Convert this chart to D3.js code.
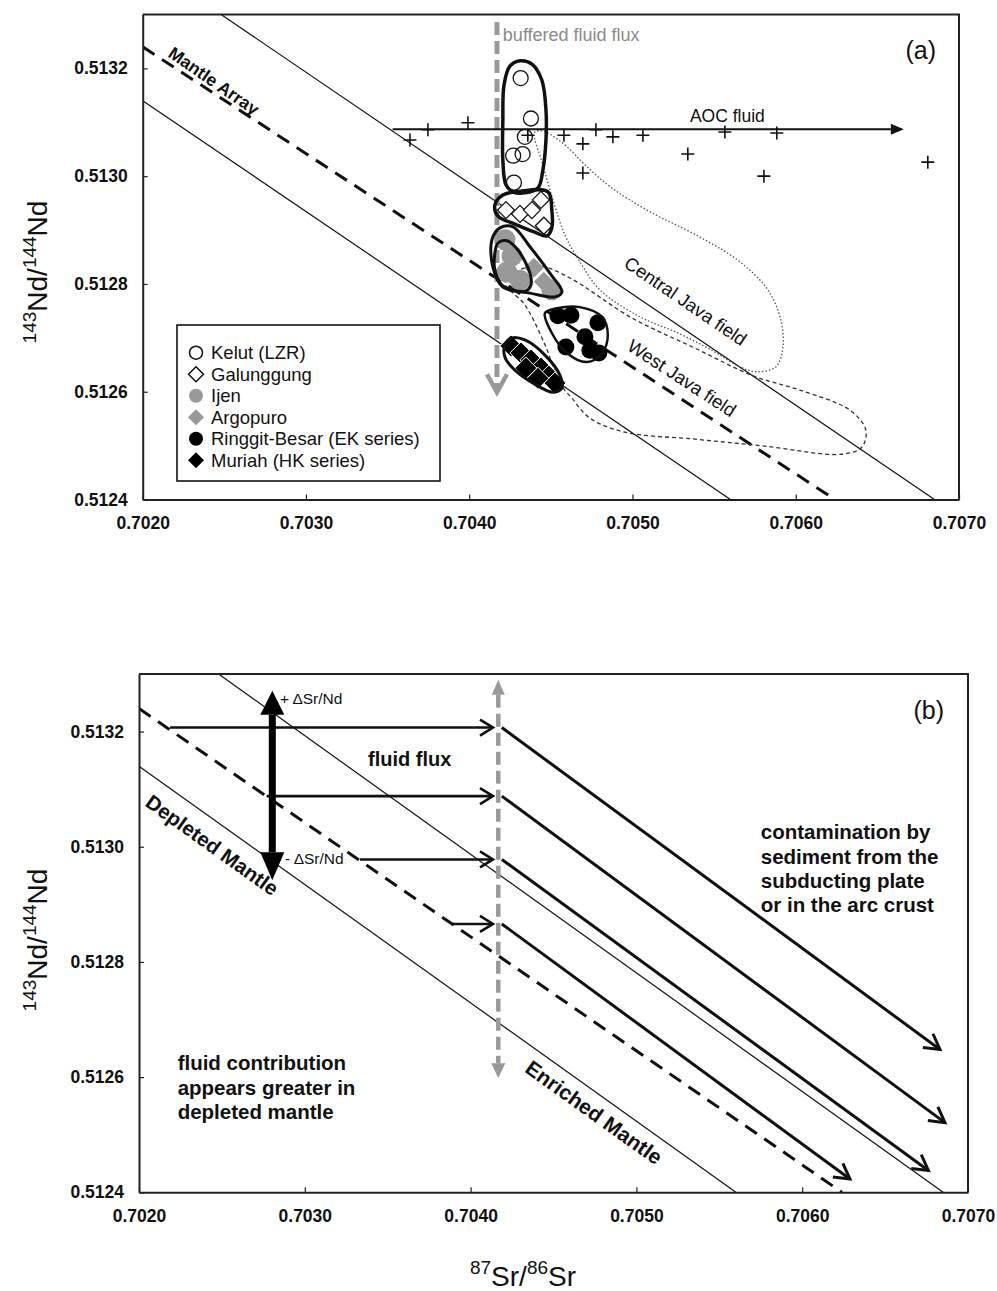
<!DOCTYPE html>
<html><head><meta charset="utf-8">
<script src="https://cdn.jsdelivr.net/npm/d3@7"></script>
<style>body{margin:0;background:#fff;}svg{display:block;}</style>
</head><body>
<script>
// ---------- axes ----------
const xDomain=[0.7020,0.7070];
const yDomain=[0.5124,0.5133];
const xTicks=[0.7020,0.7030,0.7040,0.7050,0.7060,0.7070];
const xTickLabels=["0.7020","0.7030","0.7040","0.7050","0.7060","0.7070"];
const yTicks=[0.5124,0.5126,0.5128,0.5130,0.5132];
const yTickLabels=["0.5124","0.5126","0.5128","0.5130","0.5132"];

// ---------- reference lines (both panels) ----------
const lineUpper=[[0.70248,0.5133],[0.70685,0.5124]];
const lineLower=[[0.7020,0.51314],[0.70560,0.5124]];
const mantleArray=[[0.7020,0.51324],[0.70624,0.5124]];

// ---------- panel (a) samples ----------
const kelut=[[0.704315,0.513182],[0.704378,0.513107],[0.704341,0.513073],[0.704269,0.513038],[0.704327,0.513041],[0.704274,0.512988]];
const galunggung=[[0.704225,0.512937],[0.704311,0.512930],[0.704384,0.512937],[0.704439,0.512956],[0.704457,0.512908]];
const ijen=[[0.704219,0.512882],[0.704262,0.512852],[0.704231,0.512822],[0.704311,0.512807],[0.704506,0.512789]];
const argopuro=[[0.704396,0.512830],[0.704457,0.512804]];
const ringgit=[[0.704543,0.512741],[0.704623,0.512742],[0.704788,0.512728],[0.704709,0.512702],[0.704592,0.512683],[0.704739,0.512677],[0.704794,0.512672]];
const muriah=[[0.704255,0.512685],[0.704317,0.512672],[0.704378,0.512659],[0.704439,0.512644],[0.704488,0.512629],[0.704525,0.512616],[0.704347,0.512644],[0.704421,0.512625]];
const aocFluid=[[0.703637,0.513067],[0.703747,0.513086],[0.703992,0.513099],[0.704359,0.513076],[0.704580,0.513076],[0.704696,0.513060],[0.704776,0.513086],[0.704880,0.513073],[0.705064,0.513076],[0.704696,0.513006],[0.705339,0.513041],[0.705566,0.513082],[0.705884,0.513080],[0.705805,0.513000],[0.706809,0.513026]];

// envelopes
const kelutEnv=[[0.704311,0.513214],[0.704384,0.513208],[0.704445,0.513178],[0.704470,0.513123],[0.704470,0.513067],[0.704451,0.513011],[0.704421,0.512978],[0.704341,0.512969],[0.704268,0.512971],[0.704225,0.512984],[0.704206,0.513030],[0.704206,0.513104],[0.704213,0.513169],[0.704249,0.513204]];
const galEnv=[[0.704157,0.512946],[0.704206,0.512965],[0.704311,0.512972],[0.704482,0.512971],[0.704506,0.512937],[0.704506,0.512904],[0.704476,0.512889],[0.704402,0.512896],[0.704280,0.512911],[0.704176,0.512926]];
const ijenEnv=[[0.704157,0.512857],[0.704176,0.512876],[0.704231,0.512880],[0.704298,0.512863],[0.704372,0.512820],[0.704378,0.512798],[0.704347,0.512787],[0.704262,0.512789],[0.704200,0.512798],[0.704157,0.512826]];
const argoEnv=[[0.704139,0.512882],[0.704188,0.512904],[0.704268,0.512906],[0.704372,0.512869],[0.704494,0.512820],[0.704568,0.512785],[0.704525,0.512776],[0.704372,0.512783],[0.704206,0.512794],[0.704145,0.512831]];
const ringgitEnv=[[0.704464,0.512746],[0.704537,0.512755],[0.704678,0.512757],[0.704813,0.512739],[0.704849,0.512705],[0.704813,0.512672],[0.704721,0.512655],[0.704598,0.512672],[0.704506,0.512709]];
const muriahEnv=[[0.704219,0.512687],[0.704262,0.512700],[0.704341,0.512696],[0.704464,0.512668],[0.704555,0.512631],[0.704568,0.512607],[0.704513,0.512599],[0.704402,0.512614],[0.704280,0.512640],[0.704219,0.512664]];
const centralJava=[[0.704464,0.513082],[0.704586,0.513058],[0.704709,0.513021],[0.704874,0.512978],[0.705107,0.512934],[0.705413,0.512887],[0.705658,0.512841],[0.705829,0.512789],[0.705909,0.512733],[0.705921,0.512681],[0.705878,0.512646],[0.705762,0.512637],[0.705658,0.512646],[0.705486,0.512677],[0.705278,0.512709],[0.705045,0.512739],[0.704800,0.512789],[0.704678,0.512841],[0.704586,0.512891],[0.704513,0.512956],[0.704451,0.513021],[0.704402,0.513082]];
const westJava=[[0.704219,0.512802],[0.704280,0.512822],[0.704433,0.512833],[0.704617,0.512811],[0.704996,0.512737],[0.705382,0.512681],[0.705743,0.512629],[0.706025,0.512603],[0.706331,0.512566],[0.706429,0.512529],[0.706405,0.512497],[0.706282,0.512484],[0.705811,0.512499],[0.705382,0.512512],[0.704953,0.512525],[0.704739,0.512551],[0.704629,0.512588],[0.704555,0.512616],[0.704464,0.512687],[0.704341,0.512761]];

const aocArrow=[[0.703531,0.513087],[0.706662,0.513087]];
const bufferedA=[[0.704170,0.513286],[0.704170,0.512599]];
const legendNames=["Kelut (LZR)","Galunggung","Ijen","Argopuro","Ringgit-Besar (EK series)","Muriah (HK series)"];

// ---------- panel (b) schematic ----------
const bufferedB=[[0.704167,0.513290],[0.704167,0.512598]];
const deltaArrow=[[0.702804,0.513271],[0.702804,0.512942]];
const fluxY=[0.513207,0.513088,0.512978,0.512866];
const fluxStartX=[0.702187,0.702770,0.703333,0.703886];
const fluxTipX=0.704135;
const contamStartX=0.704188;
const contamEnd=[[0.706831,0.512648],[0.706861,0.512521],[0.706761,0.512438],[0.706288,0.512423]];

// ---------- drawing ----------
const font='"Liberation Sans", Arial, Helvetica, sans-serif';
const svg=d3.select("body").append("svg").attr("width",997).attr("height",1291);
const defs=svg.append("defs");

function makePanel(id,xr,yr){
  const x=d3.scaleLinear().domain(xDomain).range(xr);
  const y=d3.scaleLinear().domain(yDomain).range(yr);
  defs.append("clipPath").attr("id",id).append("rect").attr("x",xr[0]).attr("y",yr[1]).attr("width",xr[1]-xr[0]).attr("height",yr[0]-yr[1]);
  const g=svg.append("g");
  const plot=g.append("g").attr("clip-path",`url(#${id})`);
  return {x,y,g,plot};
}
function drawAxes(P){
  const {x,y,g}=P;
  const xa=g.append("g").attr("transform",`translate(0,${y.range()[0]})`)
    .call(d3.axisBottom(x).tickValues(xTicks).tickFormat((d,i)=>xTickLabels[i]).tickSizeInner(-5).tickSizeOuter(0).tickPadding(17));
  const ya=g.append("g").attr("transform",`translate(${x.range()[0]},0)`)
    .call(d3.axisLeft(y).tickValues(yTicks).tickFormat((d,i)=>yTickLabels[i]).tickSizeInner(-5).tickSizeOuter(0).tickPadding(15));
  [xa,ya].forEach(a=>{
    a.select(".domain").attr("stroke","#222").attr("stroke-width",2);
    a.selectAll(".tick line").attr("stroke","#222").attr("stroke-width",1.2);
    a.selectAll("text").attr("font-family",font).attr("font-weight","bold").attr("font-size",17.5).attr("fill","#111");
  });
  g.append("path").attr("d",`M${x.range()[0]},${y.range()[1]}H${x.range()[1]}V${y.range()[0]}`)
    .attr("fill","none").attr("stroke","#222").attr("stroke-width",2);
}
const px=(P,d)=>[P.x(d[0]),P.y(d[1])];
function refLines(P){
  const ln=d3.line().x(d=>P.x(d[0])).y(d=>P.y(d[1]));
  P.plot.append("path").attr("d",ln(lineUpper)).attr("stroke","#111").attr("stroke-width",1.2).attr("fill","none");
  P.plot.append("path").attr("d",ln(lineLower)).attr("stroke","#111").attr("stroke-width",1.2).attr("fill","none");
  P.plot.append("path").attr("d",ln(mantleArray)).attr("stroke","#111").attr("stroke-width",3).attr("stroke-dasharray","14,9").attr("fill","none");
}
function angleOf(P,l){const a=px(P,l[0]),b=px(P,l[1]);return Math.atan2(b[1]-a[1],b[0]-a[0])*180/Math.PI;}
function headPts(p0,p1,len,hw){
  const a=Math.atan2(p1[1]-p0[1],p1[0]-p0[0]),c=Math.cos(a),s=Math.sin(a);
  const bx=p1[0]-len*c,by=p1[1]-len*s;
  return {a:[bx+hw*s,by-hw*c],b:[bx-hw*s,by+hw*c],base:[bx,by],tip:p1};
}
function chevron(g,p0,p1,len,hw,col,sw){
  const h=headPts(p0,p1,len,hw);
  g.append("path").attr("d",`M${h.a}L${h.tip}L${h.b}`).attr("fill","none").attr("stroke",col).attr("stroke-width",sw).attr("stroke-linejoin","miter");
}
function tri(g,p0,p1,len,hw,col){
  const h=headPts(p0,p1,len,hw);
  g.append("path").attr("d",`M${h.a}L${h.tip}L${h.b}Z`).attr("fill",col);
  return h.base;
}
function seg(g,a,b,col,sw,dash){
  const p=g.append("line").attr("x1",a[0]).attr("y1",a[1]).attr("x2",b[0]).attr("y2",b[1]).attr("stroke",col).attr("stroke-width",sw);
  if(dash)p.attr("stroke-dasharray",dash);
  return p;
}
function txt(g,x,y,s,size,opt={}){
  return g.append("text").attr("x",x).attr("y",y).attr("font-family",font).attr("font-size",size)
    .attr("font-weight",opt.w||"normal").attr("fill",opt.c||"#111").attr("text-anchor",opt.a||"start").text(s);
}
function rotText(g,P,pos,ang,s,size,opt={}){
  return g.append("text").attr("transform",`translate(${P.x(pos[0])},${P.y(pos[1])}) rotate(${ang})`)
    .attr("font-family",font).attr("font-size",size).attr("font-weight",opt.w||"normal").attr("fill",opt.c||"#111").text(s);
}
const diamond=s=>`M0,${-s}L${s},0L0,${s}L${-s},0Z`;
function yTitle(cx,cy){
  const t=svg.append("text").attr("transform",`translate(${cx},${cy}) rotate(-90)`).attr("text-anchor","middle").attr("font-family",font).attr("fill","#111");
  t.append("tspan").attr("font-size",19).attr("dy",-11).text("143");
  t.append("tspan").attr("font-size",28).attr("dy",11).text("Nd/");
  t.append("tspan").attr("font-size",19).attr("dy",-11).text("144");
  t.append("tspan").attr("font-size",28).attr("dy",11).text("Nd");
}

// ===== Panel (a) =====
const A=makePanel("clipA",[142.7,959],[499.5,14.5]);
refLines(A);
const closed=P=>d3.line().x(d=>P.x(d[0])).y(d=>P.y(d[1])).curve(d3.curveCatmullRomClosed.alpha(0.5));
const lnA=closed(A);
A.plot.append("path").attr("d",lnA(centralJava)).attr("fill","none").attr("stroke","#555").attr("stroke-width",1.3).attr("stroke-dasharray","1.5,2");
A.plot.append("path").attr("d",lnA(westJava)).attr("fill","none").attr("stroke","#333").attr("stroke-width",1.3).attr("stroke-dasharray","4,3");
// buffered fluid flux
{
  const p0=px(A,bufferedA[0]),p1=px(A,bufferedA[1]);
  seg(A.plot,p0,[p1[0],p1[1]-4],"#999",5,"13,6");
  chevron(A.plot,p0,p1,18,10,"#999",4.5);
}
// AOC fluid arrow and samples
{
  const p0=px(A,aocArrow[0]),p1=px(A,aocArrow[1]);
  const base=tri(A.plot,p0,p1,13,5.5,"#111");
  seg(A.plot,p0,base,"#111",2);
  A.plot.selectAll(".plus").data(aocFluid).join("path").attr("class","plus")
    .attr("d",d=>`M${A.x(d[0])-6.5},${A.y(d[1])}h13M${A.x(d[0])},${A.y(d[1])-6.5}v13`)
    .attr("stroke","#111").attr("stroke-width",1.6);
}
// Ijen / Argopuro
A.plot.selectAll(".ijen").data(ijen).join("circle").attr("cx",d=>A.x(d[0])).attr("cy",d=>A.y(d[1])).attr("r",10.5).attr("fill","#999");
A.plot.selectAll(".argo").data(argopuro).join("path").attr("d",diamond(10)).attr("transform",d=>`translate(${A.x(d[0])},${A.y(d[1])})`).attr("fill","#999");
A.plot.append("path").attr("d",lnA(argoEnv)).attr("fill","none").attr("stroke","#111").attr("stroke-width",3);
A.plot.append("path").attr("d",lnA(ijenEnv)).attr("fill","none").attr("stroke","#111").attr("stroke-width",3);
// Kelut
A.plot.selectAll(".kelut").data(kelut).join("circle").attr("cx",d=>A.x(d[0])).attr("cy",d=>A.y(d[1])).attr("r",7.5).attr("fill","none").attr("stroke","#111").attr("stroke-width",1.3);
A.plot.append("path").attr("d",lnA(kelutEnv)).attr("fill","none").attr("stroke","#111").attr("stroke-width",3.5);
// Galunggung
A.plot.selectAll(".gal").data(galunggung).join("path").attr("d",diamond(8.5)).attr("transform",d=>`translate(${A.x(d[0])},${A.y(d[1])})`).attr("fill","#fff").attr("stroke","#111").attr("stroke-width",1.3);
A.plot.append("path").attr("d",lnA(galEnv)).attr("fill","none").attr("stroke","#111").attr("stroke-width",3.5);
// Ringgit-Besar
A.plot.selectAll(".ring").data(ringgit).join("circle").attr("cx",d=>A.x(d[0])).attr("cy",d=>A.y(d[1])).attr("r",8.5).attr("fill","#000");
A.plot.append("path").attr("d",lnA(ringgitEnv)).attr("fill","none").attr("stroke","#111").attr("stroke-width",2.5);
// Muriah
A.plot.selectAll(".mur").data(muriah).join("path").attr("d",diamond(11)).attr("transform",d=>`translate(${A.x(d[0])},${A.y(d[1])})`).attr("fill","#000").attr("stroke","#fff").attr("stroke-width",1);
A.plot.append("path").attr("d",lnA(muriahEnv)).attr("fill","none").attr("stroke","#111").attr("stroke-width",3);
// labels
rotText(A.g,A,[0.702149,0.513223],angleOf(A,mantleArray)+1.5,"Mantle Array",17.5,{w:"bold"});
rotText(A.g,A,[0.704941,0.512833],angleOf(A,lineUpper),"Central Java field",18.5);
rotText(A.g,A,[0.704960,0.512679],angleOf(A,lineUpper)-1,"West Java field",18.5);
txt(A.g,A.x(0.704200)+1,41,"buffered fluid flux",18,{c:"#8a8a8a"});
txt(A.g,A.x(0.705370)-3,A.y(0.513087)-7,"AOC fluid",17.5);
txt(A.g,936,59,"(a)",25,{a:"end"});
drawAxes(A);
// legend
{
  const L=A.g.append("g");
  L.append("rect").attr("x",177).attr("y",325).attr("width",263).attr("height",156).attr("fill","#fff").attr("stroke","#111").attr("stroke-width",1.6);
  legendNames.forEach((n,i)=>{
    const cy=352.7+i*21.5, cx=196;
    if(i===0) L.append("circle").attr("cx",cx).attr("cy",cy).attr("r",6.5).attr("fill","#fff").attr("stroke","#111").attr("stroke-width",1.5);
    if(i===1) L.append("path").attr("d",diamond(7.5)).attr("transform",`translate(${cx},${cy})`).attr("fill","#fff").attr("stroke","#111").attr("stroke-width",1.5);
    if(i===2) L.append("circle").attr("cx",cx).attr("cy",cy).attr("r",7).attr("fill","#999");
    if(i===3) L.append("path").attr("d",diamond(8)).attr("transform",`translate(${cx},${cy})`).attr("fill","#999");
    if(i===4) L.append("circle").attr("cx",cx).attr("cy",cy).attr("r",7).attr("fill","#000");
    if(i===5) L.append("path").attr("d",diamond(8)).attr("transform",`translate(${cx},${cy})`).attr("fill","#000");
    txt(L,211,cy+6.3,n,18.5);
  });
}
yTitle(47,272);

// ===== Panel (b) =====
const B=makePanel("clipB",[139,968],[1192.3,674]);
refLines(B);
// grey buffered line with heads
{
  const p0=px(B,bufferedB[0]),p1=px(B,bufferedB[1]);
  const b1=tri(B.plot,p0,p1,15,7,"#999");
  const b0=tri(B.plot,p1,p0,15,6.5,"#999");
  seg(B.plot,b0,b1,"#999",4.5,"13,6");
}
// fluid flux arrows
fluxY.forEach((yv,i)=>{
  const p0=[B.x(fluxStartX[i]),B.y(yv)],p1=[B.x(fluxTipX),B.y(yv)];
  seg(B.plot,p0,p1,"#111",2.6);
  chevron(B.plot,p0,p1,13,8,"#111",2.6);
  const q0=[B.x(contamStartX),B.y(yv)],q1=px(B,contamEnd[i]);
  seg(B.plot,q0,q1,"#111",3);
  chevron(B.plot,q0,q1,15,8.5,"#111",3);
});
// delta Sr/Nd arrow
{
  const p0=px(B,deltaArrow[0]),p1=px(B,deltaArrow[1]);
  const bTop=tri(B.plot,p1,p0,24,12,"#000");
  const bBot=tri(B.plot,p0,p1,28,12,"#000");
  seg(B.plot,bTop,bBot,"#000",7);
}
txt(B.g,B.x(0.702850),B.y(0.513248),"+ ΔSr/Nd",15.5);
txt(B.g,B.x(0.702881),B.y(0.512970),"- ΔSr/Nd",15.5);
txt(B.g,B.x(0.703381),B.y(0.513140),"fluid flux",20,{w:"bold"});
rotText(B.g,B,[0.702030,0.513072],angleOf(B,lineLower),"Depleted Mantle",20.5,{w:"bold"});
rotText(B.g,B,[0.704320,0.512610],angleOf(B,lineLower),"Enriched Mantle",21,{w:"bold"});
txt(B.g,944,719,"(b)",25,{a:"end"});
{
  const lines=["contamination by","sediment from the","subducting plate","or in the arc crust"];
  lines.forEach((s,i)=>txt(B.g,B.x(0.705750),B.y(0.513013)+i*24.3,s,20.5,{w:"bold"}));
  const l2=["fluid contribution","appears greater in","depleted mantle"];
  l2.forEach((s,i)=>txt(B.g,B.x(0.702233),B.y(0.512612)+i*24.3,s,20.5,{w:"bold"}));
}
drawAxes(B);
yTitle(47,940);
{
  const t=svg.append("text").attr("x",523).attr("y",1286).attr("text-anchor","middle").attr("font-family",font).attr("fill","#111");
  t.append("tspan").attr("font-size",19).attr("dy",-12).text("87");
  t.append("tspan").attr("font-size",28).attr("dy",12).text("Sr/");
  t.append("tspan").attr("font-size",19).attr("dy",-12).text("86");
  t.append("tspan").attr("font-size",28).attr("dy",12).text("Sr");
}
</script>
</body></html>
